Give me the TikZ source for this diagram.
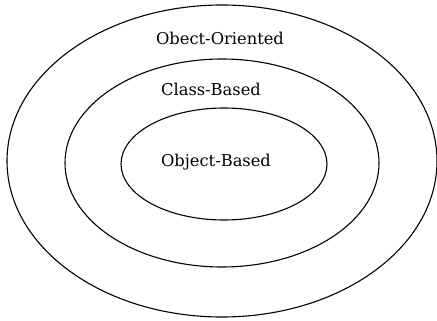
\documentclass[tikz,border=0pt]{standalone}
\usepackage{fontspec}
\setmainfont{DejaVu Serif}
\usetikzlibrary{shapes.geometric}
\begin{document}
\begin{tikzpicture}[x=1pt,y=-1pt,
  ring/.style={draw,line width=1.1pt},
  lbl/.style={font=\fontsize{16.3}{18}\selectfont,inner sep=0pt}]
\useasboundingbox (0,0) rectangle (437,321);
\draw[ring] (222,161) ellipse [x radius=215, y radius=156];
\draw[ring] (222,163) ellipse [x radius=157, y radius=104];
\draw[ring] (224,164) ellipse [x radius=103, y radius=56];
\node[lbl] (oo) at (220,38) {Obect-Oriented};
\node[lbl] (cb) at (211,89) {Class-Based};
\node[lbl] (ob) at (216,162) {Object-Based};
\end{tikzpicture}
\end{document}
